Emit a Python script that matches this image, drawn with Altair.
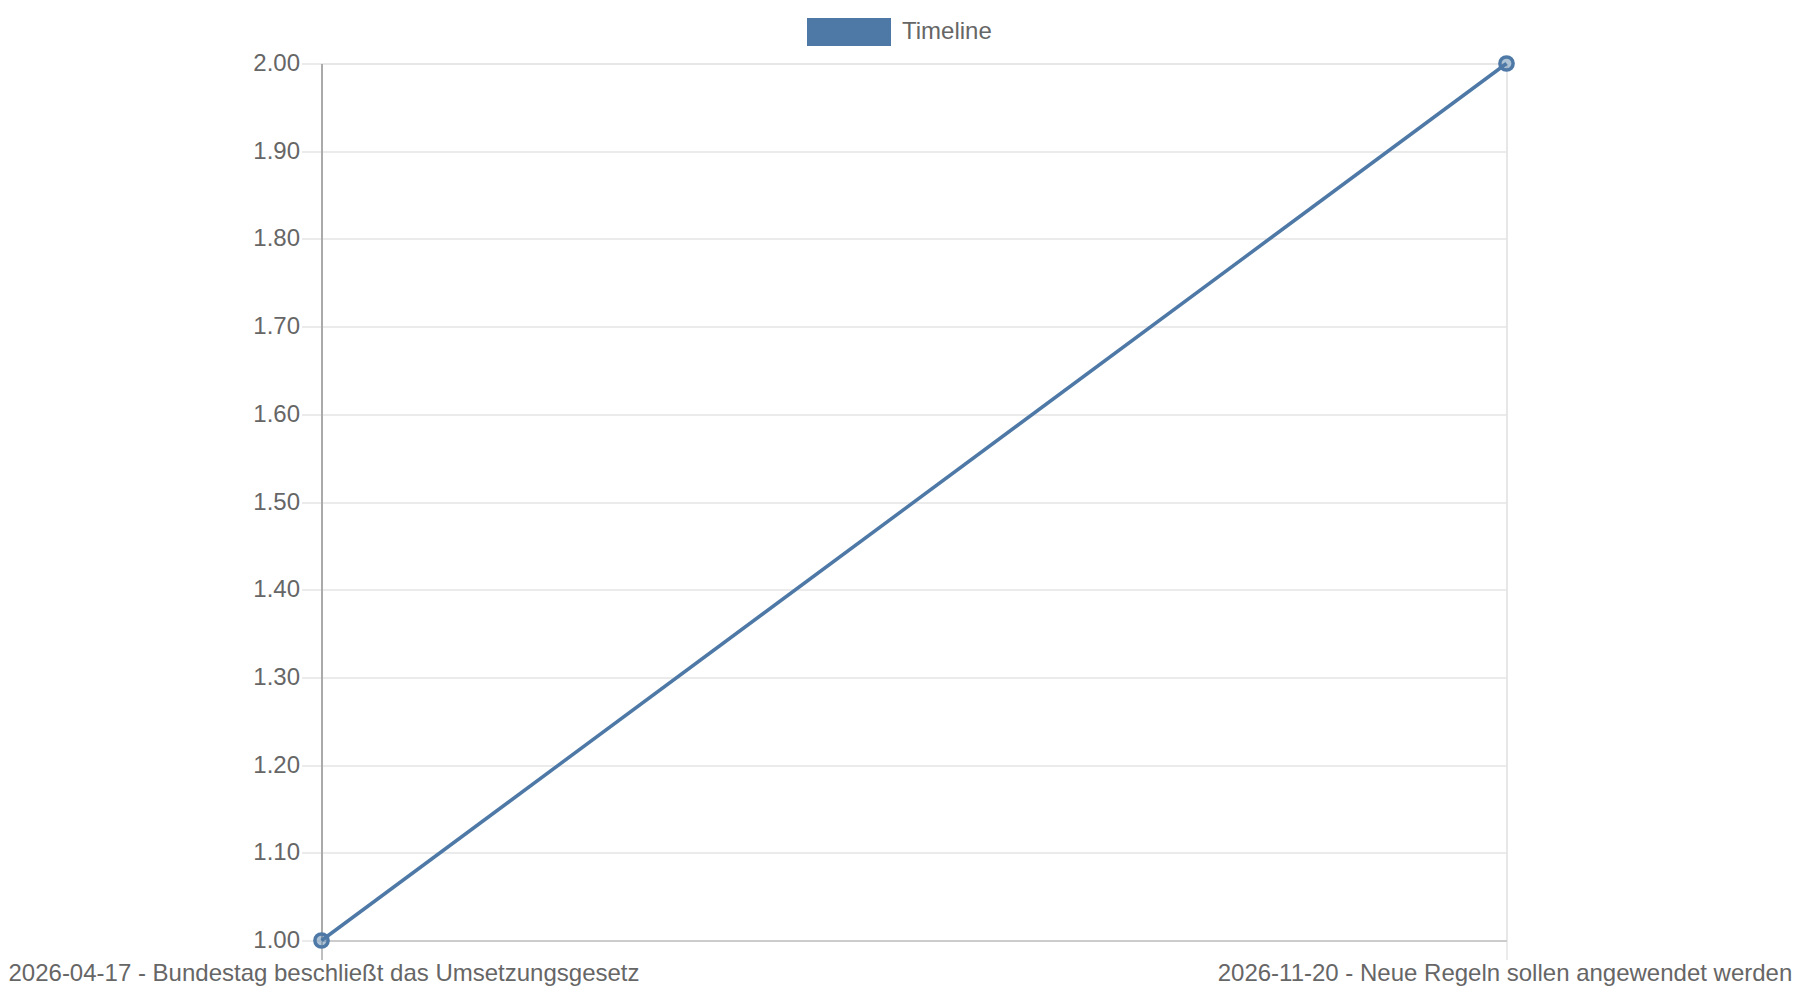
import altair as alt
import pandas as pd

events = [
    "2026-04-17 - Bundestag beschließt das Umsetzungsgesetz",
    "2026-11-20 - Neue Regeln sollen angewendet werden",
]
values = [1, 2]
series = ["Timeline", "Timeline"]
y_ticks = [1.0, 1.1, 1.2, 1.3, 1.4, 1.5, 1.6, 1.7, 1.8, 1.9, 2.0]

df = pd.DataFrame({"event": events, "value": values, "series": series})

BLUE = "#4e79a7"
TEXT = "#666666"
GRID = "#e5e5e5"
FONT = "Liberation Sans"

x_enc = alt.X(
    "event:N",
    sort=events,
    scale=alt.Scale(type="point", padding=0),
    axis=alt.Axis(
        title=None,
        labelAngle=0,
        labelFontSize=24,
        labelColor=TEXT,
        labelFont=FONT,
        labelPadding=2,
        labelOffset={"condition": {"test": "datum.index === 0", "value": 2}, "value": -2},
        labelOverlap=False,
        labelLimit=0,
        tickSize=19,
        tickWidth=1.5,
        tickColor={"condition": {"test": "datum.index === 0", "value": "#aaaaaa"}, "value": GRID},
        grid=True,
        gridColor=GRID,
        gridWidth=1.5,
        domainColor="#cccccc",
        domainWidth=2,
    ),
)

y_enc = alt.Y(
    "value:Q",
    scale=alt.Scale(domain=[1, 2], nice=False, zero=False),
    axis=alt.Axis(
        title=None,
        values=y_ticks,
        format=".2f",
        labelFontSize=24,
        labelColor=TEXT,
        labelFont=FONT,
        labelPadding=2,
        tickSize=20,
        tickWidth=1.5,
        tickColor=GRID,
        grid=True,
        gridColor=GRID,
        gridWidth=1.5,
        domainColor="#aaaaaa",
        domainWidth=2,
    ),
)

base = alt.Chart(df).encode(x=x_enc, y=y_enc)

line = base.mark_line(strokeWidth=3.5).encode(
    color=alt.Color(
        "series:N",
        scale=alt.Scale(domain=["Timeline"], range=[BLUE]),
        legend=alt.Legend(
            title=None,
            orient="none",
            legendX=485.5,
            legendY=-73.5,
            padding=0,
            symbolType="M-1,-0.3333H1V0.3333H-1Z",
            symbolSize=7056,
            symbolFillColor=BLUE,
            symbolStrokeWidth=0,
            symbolOffset=0,
            labelFontSize=24,
            labelColor=TEXT,
            labelFont=FONT,
            labelOffset=11,
        ),
    )
)

points = base.mark_circle(
    size=175, color=BLUE, fill=BLUE, fillOpacity=0.45, opacity=1, stroke=BLUE, strokeWidth=3.5
)

chart = (
    alt.layer(line, points)
    .properties(
        width=1185,
        height=877,
        autosize=alt.AutoSizeParams(type="none"),
        padding={"left": 313.5, "top": 55.5, "right": 285.5, "bottom": 50},
    )
    .configure_view(stroke=None)
    .configure(font=FONT)
)

chart.save("out.html", embed_options={"renderer": "svg", "actions": False})
